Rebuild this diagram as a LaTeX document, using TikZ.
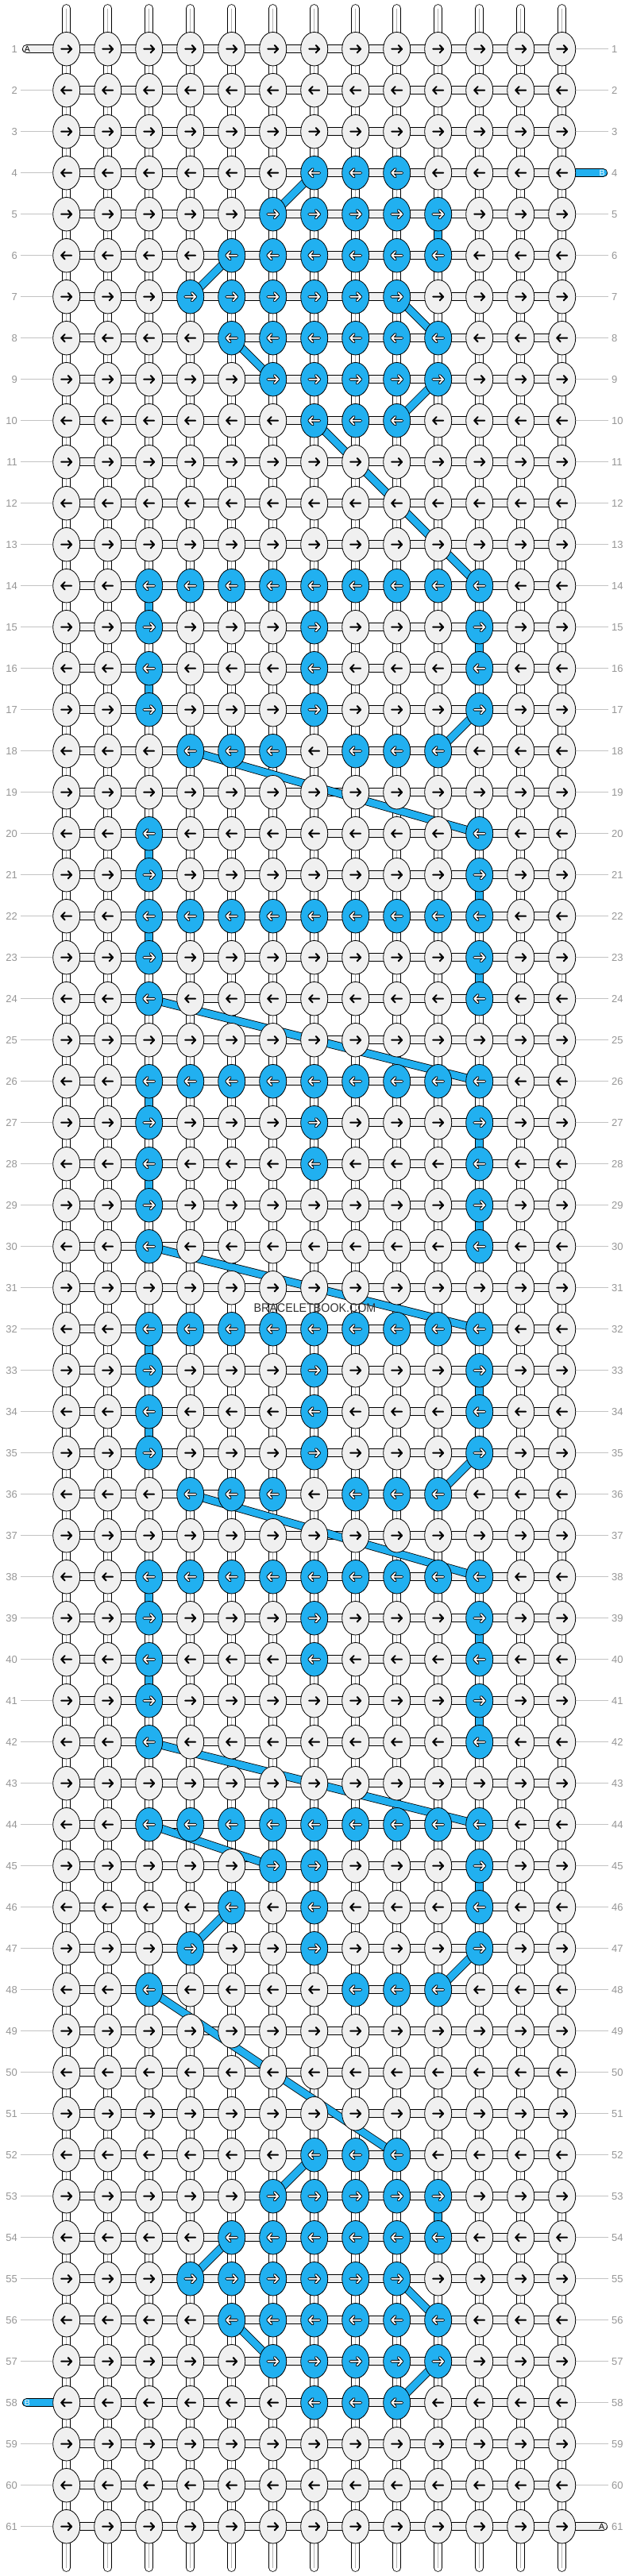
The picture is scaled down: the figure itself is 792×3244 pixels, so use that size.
\documentclass[tikz,border=0pt]{standalone}
\usepackage{fontspec}
\setmainfont{Liberation Sans}
\usepackage{xstring}
\usepackage{tikz}
\usetikzlibrary{shapes.geometric}
\pgfdeclarelayer{paper}
\pgfdeclarelayer{strands}
\pgfdeclarelayer{bstrands}
\pgfsetlayers{paper,strands,bstrands,main}
\definecolor{knotgray}{RGB}{240,240,240}
\definecolor{knotblue}{RGB}{33,176,240}
\definecolor{lblgray}{RGB}{150,150,150}
\definecolor{linegray}{RGB}{195,195,195}
\definecolor{wmark}{RGB}{50,50,50}
\tikzset{
  knot/.style={draw,ellipse,line width=0.8pt,minimum width=34pt,minimum height=42.5pt,inner sep=0pt},
  hbar/.style={draw=black,line width=0.8pt,double=knotgray,double distance=9.5pt},
  vbar/.style={draw=black,line width=0.8pt,double=white,double distance=9pt},
  midline/.style={draw=black!30,line width=0.7pt},
  bbar/.style={draw=black,line width=0.8pt,double=knotblue,double distance=8.8pt},
  lblline/.style={draw=linegray,line width=0.8pt},
  arrk/.style={draw=black,line width=2pt,line cap=round,line join=round},
  arro/.style={draw=black,line width=3.8pt,line cap=round,line join=round},
  arrw/.style={draw=white,line width=1.7pt,line cap=round,line join=round},
  rowlbl/.style={text=lblgray,font=\fontsize{13}{13}\selectfont,inner sep=0pt},
  endlbl/.style={font=\fontsize{10.5}{10.5}\selectfont,inner sep=0pt},
  pics/goright/.style={code={\draw[pic actions] (-6.5,0) -- (6.5,0) (2,-4.7) -- (6.5,0) -- (2,4.7);}},
}
\def\fullrow{:3:4:5:6:7:8:9:10:11:}

\begin{document}
\begin{tikzpicture}[x=1pt,y=-1pt]
	\begin{pgfonlayer}{paper}
		\fill[white] (0,0) rectangle (792,3244);
	\end{pgfonlayer}
	\useasboundingbox (0,0) rectangle (792,3244);
	% knots, row by row (blue columns between colons)
	\foreach \r/\bl in {1/:,2/:,3/:,4/:7:8:9:,5/:6:7:8:9:10:,6/:5:6:7:8:9:10:,7/:4:5:6:7:8:9:,
		8/:5:6:7:8:9:10:,9/:6:7:8:9:10:,10/:7:8:9:,11/:,12/:,13/:,14/\fullrow,15/:3:7:11:,
		16/:3:7:11:,17/:3:7:11:,18/:4:5:6:8:9:10:,19/:,20/:3:11:,21/:3:11:,22/\fullrow,
		23/:3:11:,24/:3:11:,25/:,26/\fullrow,27/:3:7:11:,28/:3:7:11:,29/:3:11:,30/:3:11:,
		31/:,32/\fullrow,33/:3:7:11:,34/:3:7:11:,35/:3:7:11:,36/:4:5:6:8:9:10:,37/:,
		38/\fullrow,39/:3:7:11:,40/:3:7:11:,41/:3:11:,42/:3:11:,43/:,44/\fullrow,
		45/:6:7:11:,46/:5:7:11:,47/:4:7:11:,48/:3:8:9:10:,49/:,50/:,51/:,52/:7:8:9:,
		53/:6:7:8:9:10:,54/:5:6:7:8:9:10:,55/:4:5:6:7:8:9:,56/:5:6:7:8:9:10:,
		57/:6:7:8:9:10:,58/:7:8:9:,59/:,60/:,61/:}{
		\pgfmathsetmacro\ang{ifthenelse(mod(\r,2)==1,0,180)}
		\foreach \c in {1,...,13}{
			\IfSubStr{\bl}{:\c:}{\def\kfill{knotblue}\def\isblue{1}}{\def\kfill{knotgray}\def\isblue{0}}
			\node[knot,fill=\kfill] (k-\r-\c) at ({83.7+52*(\c-1)},{61.7+52*(\r-1)}) {};
			\ifnum\isblue=1
				\pic[arro,rotate=\ang] at (k-\r-\c) {goright};
				\pic[arrw,rotate=\ang] at (k-\r-\c) {goright};
			\else
				\pic[arrk,rotate=\ang] at (k-\r-\c) {goright};
			\fi
		}
	}
	% gray strands and row numbers
	\begin{pgfonlayer}{strands}
		\foreach \r in {1,...,61}{
			\foreach \c [count=\cn from 2] in {1,...,12}
				\draw[hbar] (k-\r-\c.center) -- (k-\r-\cn.center);
			\node[rowlbl,anchor=east] (ll-\r) at (22,{61.7+52*(\r-1)}) {\r};
			\node[rowlbl,anchor=west] (rl-\r) at (770,{61.7+52*(\r-1)}) {\r};
		}
		\foreach \r in {2,...,57,59,60,61}
			\draw[lblline,shorten <=4pt] (ll-\r) -- (k-\r-1);
		\foreach \r in {1,2,3,5,6,...,60}
			\draw[lblline,shorten <=4pt] (rl-\r) -- (k-\r-13);
		\foreach \c in {1,...,13}{
			\coordinate (t-\c) at ({83.7+52*(\c-1)},10.5);
			\coordinate (b-\c) at ({83.7+52*(\c-1)},3233.5);
			\draw[vbar,line cap=round] (t-\c) -- (k-1-\c.center);
			\draw[vbar,line cap=round] (k-61-\c.center) -- (b-\c);
			\foreach \r [count=\rn from 2] in {1,...,60}
				\draw[vbar] (k-\r-\c.center) -- (k-\rn-\c.center);
			\draw[midline] (t-\c) -- (b-\c);
		}
		\coordinate (aL) at (33.5,61.7);
		\coordinate (aR) at (759.5,3181.7);
		\draw[hbar,line cap=round] (aL) -- (k-1-1.center);
		\draw[hbar,line cap=round] (k-61-13.center) -- (aR);
	\end{pgfonlayer}
	% blue strands
	\begin{pgfonlayer}{bstrands}
		\coordinate (bR) at (759.5,217.7);
		\coordinate (bL) at (33.5,3025.7);
		\draw[bbar,line cap=round,double distance=9.5pt] (k-4-13.center) -- (bR);
		\draw[bbar,line cap=round,double distance=9.5pt] (bL) -- (k-58-1.center);
		\foreach \ra/\ca/\rb/\cb in {4/7/5/6,6/5/7/4,7/9/8/10,8/5/9/6,9/10/10/9,10/7/14/11,
			17/11/18/10,18/4/20/11,24/3/26/11,30/3/32/11,35/11/36/10,36/4/38/11,42/3/44/11,
			44/3/45/6,46/5/47/4,47/11/48/10,48/3/52/9,52/7/53/6,54/5/55/4,55/9/56/10,
			56/5/57/6,57/10/58/9,5/10/6/10,53/10/54/10,
			14/3/15/3,16/3/17/3,20/3/21/3,22/3/23/3,26/3/27/3,28/3/29/3,32/3/33/3,
			34/3/35/3,38/3/39/3,40/3/41/3,
			15/11/16/11,21/11/22/11,23/11/24/11,27/11/28/11,29/11/30/11,33/11/34/11,
			39/11/40/11,41/11/42/11,45/11/46/11}
			\draw[bbar] (k-\ra-\ca.center) -- (k-\rb-\cb.center);
	\end{pgfonlayer}
	\node[endlbl] (aL-t) at (aL) [xshift=1pt] {A};
	\node[endlbl] (aR-t) at (aR) [xshift=-2pt] {A};
	\node[endlbl,text=white] (bR-t) at (bR) [xshift=-1.5pt] {B};
	\node[endlbl,text=white] (bL-t) at (bL) [xshift=1pt] {B};
	\node[text=wmark,font=\fontsize{15.5}{16}\selectfont,inner sep=0pt] (wm) at (396.5,1647.5) {\scalebox{0.92}[1]{BRACELETBOOK.COM}};
\end{tikzpicture}
\end{document}
